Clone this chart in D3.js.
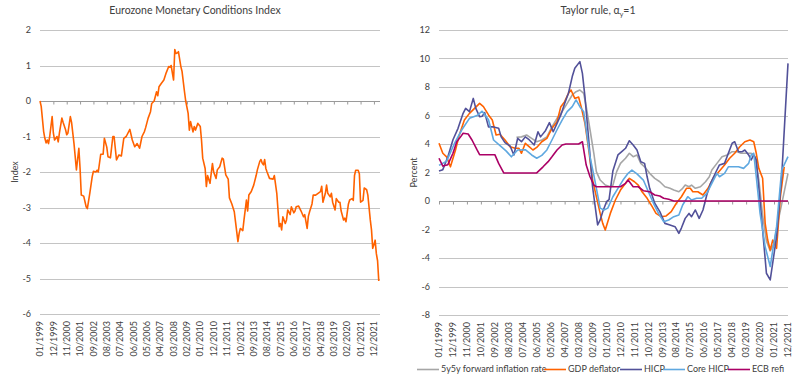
<!DOCTYPE html>
<html>
<head>
<meta charset="utf-8">
<script src="https://cdn.jsdelivr.net/npm/d3@7"></script>
<style>
  html, body { margin: 0; padding: 0; background: #ffffff; }
  svg { display: block; }
  text { font-family: Lato, "Open Sans", sans-serif; fill: #404040; }
</style>
</head>
<body>
<div id="chart"></div>
<script>
// ---------------- DATA ----------------
// Month index counted from 01/1999 (0 = Jan 1999)
const xTickLabels = ["01/1999","12/1999","11/2000","10/2001","09/2002","08/2003","07/2004","06/2005","05/2006","04/2007","03/2008","02/2009","01/2010","12/2010","11/2011","10/2012","09/2013","08/2014","07/2015","06/2016","05/2017","04/2018","03/2019","02/2020","01/2021","12/2021"];
const xTickStep = 11; // months between labels

// Left panel: Eurozone Monetary Conditions Index
const mciMonths = [0,1,3,4,5,6,7,8,10,11,12,13,14,15,16,18,19,21,22,23,25,26,28,30,32,33,34,36,38,39,41,43,44,46,47,48,50,52,53,55,56,58,60,61,63,65,67,69,71,74,76,78,80,82,84,86,87,89,91,92,94,96,97,98,100,102,104,106,107,108,110,111,112,113,114,116,117,119,120,122,123,124,126,127,128,130,132,133,134,136,137,138,140,142,143,145,146,148,150,151,153,155,156,158,160,161,163,164,165,167,168,170,171,172,174,176,178,179,181,182,183,184,185,186,187,189,192,193,195,197,198,199,200,202,203,204,206,207,209,210,211,213,215,217,218,220,221,222,224,225,227,229,231,232,233,235,236,237,239,240,241,243,244,246,247,248,250,251,252,254,255,257,258,259,260,262,263,264,266,267,269,270,272,273,274,275,276,277,278,279];
const mciValues = [0.0,-0.15,-0.86,-1.05,-1.18,-1.1,-1.2,-1.0,-0.44,-0.9,-1.1,-1.05,-1.0,-1.15,-0.9,-0.48,-0.6,-0.8,-0.95,-0.9,-0.44,-0.6,-1.2,-1.94,-1.33,-1.9,-2.65,-2.68,-2.98,-3.03,-2.6,-2.13,-1.98,-2.0,-1.95,-2.0,-1.5,-1.5,-1.05,-1.3,-1.57,-1.6,-1.0,-1.0,-1.66,-1.52,-1.55,-1.05,-1.0,-0.8,-1.1,-1.29,-1.2,-1.33,-1.0,-0.86,-0.75,-0.49,-0.3,-0.07,0.0,0.26,0.15,0.4,0.5,0.59,0.8,0.97,0.95,1.0,0.59,1.45,1.34,1.35,1.39,0.97,0.83,0.26,0.0,-0.35,-0.82,-0.58,-0.87,-0.72,-0.82,-0.63,-0.72,-1.1,-1.61,-1.9,-2.41,-2.1,-2.32,-1.76,-2.0,-2.18,-1.94,-1.85,-1.61,-1.64,-2.08,-2.2,-2.73,-2.9,-3.12,-3.4,-3.96,-3.73,-3.59,-3.65,-3.35,-2.79,-3.1,-2.65,-2.55,-2.37,-2.1,-1.94,-1.7,-1.65,-1.75,-1.8,-1.65,-1.9,-2.0,-2.18,-2.2,-2.1,-2.6,-3.54,-3.45,-3.63,-3.26,-3.45,-3.35,-3.07,-3.2,-2.98,-3.15,-3.1,-2.98,-2.96,-3.1,-3.26,-3.2,-3.59,-3.25,-3.12,-2.9,-2.65,-2.65,-2.6,-2.55,-2.4,-2.85,-2.6,-2.37,-2.6,-2.7,-2.6,-2.85,-3.07,-2.75,-2.85,-2.85,-3.1,-3.35,-3.3,-3.4,-2.9,-2.79,-2.75,-2.8,-2.1,-1.95,-1.95,-2.05,-2.85,-2.8,-2.45,-2.5,-2.65,-3.35,-3.63,-4.15,-4.05,-3.92,-4.3,-4.5,-5.07];
const mciTicks = [2,1,0,-1,-2,-3,-4,-5,-6];

// Right panel: Taylor rule, alpha_y = 1 (percent)
const fwdMonths = [61,65,69,73,77,81,85,89,93,97,101,105,108,111,114,116,119,122,124,127,131,135,137,140,143,147,150,153,156,159,162,166,170,174,178,182,185,189,192,194,197,199,202,206,210,213,215,219,223,227,231,235,238,242,246,249,252,255,258,261,264,267,271,275];
const fwdValues = [4.47,4.5,4.63,4.4,4.16,4.28,4.5,5.2,5.8,6.27,6.85,7.44,7.67,7.79,7.56,6.62,5.0,3.35,2.06,1.47,1.12,1.0,1.1,2.06,2.64,3.0,3.35,3.11,3.23,2.64,2.4,1.94,1.59,1.35,1.0,0.89,0.77,0.65,0.89,1.12,1.0,1.12,0.89,1.0,1.35,1.7,2.17,2.64,3.11,3.23,3.46,3.46,3.35,3.35,3.35,3.11,1.5,-1.0,-2.8,-3.5,-3.0,-1.5,0.2,1.94];

const gdpMonths = [0,3,6,9,13,16,20,24,28,32,35,39,42,45,48,52,56,60,63,65,68,71,74,77,81,85,89,93,96,99,102,104,107,110,112,115,118,121,127,129,131,135,139,143,147,150,154,157,160,164,168,171,175,179,183,187,191,195,198,200,204,208,212,216,220,225,229,233,237,241,245,248,250,252,255,257,259,261,263,266,269,272];
const gdpValues = [4.05,3.35,3.1,2.4,3.58,4.63,5.68,6.15,6.5,6.85,6.62,6.04,5.68,4.63,4.68,4.28,3.81,3.7,3.7,3.35,4.05,3.81,3.58,3.76,4.16,4.4,5.1,5.57,6.62,6.97,7.56,7.79,7.2,7.3,6.62,5.45,3.58,1.47,-0.87,-1.57,-2.04,-0.87,0.07,0.77,1.24,1.59,1.35,1.12,0.65,0.19,-0.4,-0.87,-1.1,-1.05,-0.75,-0.16,0.3,0.89,0.89,0.65,0.65,0.42,0.89,1.59,2.0,2.53,3.0,3.35,3.81,4.16,4.28,4.16,3.35,2.29,1.6,-1.57,-2.74,-3.44,-2.74,-3.32,0.3,2.4];

const hicpMonths = [0,3,7,11,15,19,21,24,27,29,32,34,36,39,43,47,49,52,56,59,62,65,68,71,75,78,80,84,87,90,93,96,99,102,105,107,111,113,115,118,121,125,127,129,132,134,137,141,144,147,150,153,156,159,162,164,166,170,174,178,182,186,189,191,194,197,199,202,205,208,211,214,218,221,225,228,231,233,236,239,241,244,246,248,250,254,258,261,266,270,275];
const hicpValues = [2.1,2.2,3.1,4.3,5.1,6.15,6.5,6.27,7.2,6.5,5.92,5.95,6.2,5.2,5.2,5.1,4.5,4.1,3.86,3.23,4.4,4.16,4.5,4.3,3.93,4.86,4.5,4.95,5.5,4.86,5.45,6.04,6.85,7.56,8.73,9.31,9.78,8.96,7.32,4.28,1.0,-1.68,-1.33,-0.75,-0.05,0.1,2.1,3.23,3.46,3.7,4.23,3.93,3.58,2.76,2.64,1.7,0.89,-0.16,-0.75,-1.57,-1.68,-1.8,-2.27,-1.9,-1.22,-0.87,-1.1,-0.63,-1.22,-0.63,0.42,1.24,2.0,2.53,2.64,3.35,4.05,4.16,3.46,3.46,3.58,3.23,2.88,3.23,2.88,-1.0,-5.07,-5.54,-2.5,1.7,9.66];

const coreMonths = [0,6,12,18,24,30,34,39,43,49,53,57,62,68,73,77,81,85,89,93,97,101,105,108,111,114,116,119,122,127,130,133,137,141,145,149,152,156,161,165,169,173,177,181,185,189,192,196,199,203,207,211,215,219,221,225,228,232,236,240,244,246,248,250,253,257,261,263,266,270,275];
const coreValues = [2.5,2.8,4.0,5.0,5.8,6.0,6.3,5.7,4.28,3.81,3.5,3.1,3.58,3.6,3.23,3.0,3.2,3.58,4.28,5.0,5.68,6.27,6.62,7.09,6.62,6.27,5.0,3.1,1.82,-0.5,-0.63,-0.5,0.3,0.89,1.47,1.94,2.17,1.9,1.47,0.65,-0.16,-0.87,-1.45,-1.33,-1.1,-0.98,-0.28,0.3,0.07,0.19,0.19,0.54,1.24,1.94,1.7,1.94,2.4,2.4,2.4,2.29,2.64,3.23,3.35,1.7,-0.87,-3.2,-4.6,-3.44,-1.8,2.17,3.11];

const refiMonths = [0,3,7,11,14,17,19,23,26,30,32,36,40,44,47,51,60,70,77,82,86,89,93,97,100,110,113,116,119,122,124,143,147,149,153,157,161,166,170,174,177,181,185,275];
const refiValues = [3.0,2.45,2.55,3.35,4.16,4.5,4.75,4.7,4.28,3.58,3.25,3.25,3.25,3.25,2.64,1.97,1.97,1.97,1.97,2.4,2.76,3.1,3.58,3.93,4.0,4.0,4.16,2.52,1.7,1.12,1.0,1.0,1.24,1.47,1.0,1.0,0.72,0.65,0.42,0.35,0.19,0.12,0.0,0.0];

const taylorTicks = [12,10,8,6,4,2,0,-2,-4,-6,-8];

const seriesNames = ["5y5y forward inflation rate","GDP deflator","HICP","Core HICP","ECB refi"];
const seriesColors = ["#a6a6a6","#ff6200","#525199","#5fa8e0","#ab0066"];
const seriesMonths = [fwdMonths, gdpMonths, hicpMonths, coreMonths, refiMonths];
const seriesValues = [fwdValues, gdpValues, hicpValues, coreValues, refiValues];

// ---------------- DRAW ----------------
const W = 800, H = 382;
const svg = d3.select("#chart").append("svg").attr("width", W).attr("height", H);

function panel(opts) {
  const { x, y, ticks, title, ylabel, ylabelX } = opts;
  const g = svg.append("g");
  const [x0, x1] = x.range();
  // gridlines
  g.selectAll("line.grid").data(ticks.filter(t => t !== 0)).join("line")
    .attr("x1", x0).attr("x2", x1)
    .attr("y1", d => Math.round(y(d)) + 0.5).attr("y2", d => Math.round(y(d)) + 0.5)
    .attr("stroke", "#c4c4c4").attr("stroke-width", 1);
  // y tick labels
  g.selectAll("text.yt").data(ticks).join("text")
    .attr("x", x0 - 9).attr("y", d => y(d)).attr("dy", "0.35em")
    .attr("text-anchor", "end").style("font-size", "9px")
    .text(d => d);
  // zero axis with ticks
  const y0 = Math.round(y(0)) + 0.5;
  const ax = d3.axisBottom(x)
    .tickValues(xTickLabels.map((_, i) => i * xTickStep))
    .tickSize(3).tickFormat("");
  const axg = g.append("g").attr("transform", `translate(0,${y0})`).call(ax);
  axg.select(".domain").attr("stroke", "#9a9a9a").attr("d", `M${x0},0H${x1}`);
  axg.selectAll(".tick line").attr("stroke", "#9a9a9a");
  // x labels at bottom, rotated
  const yb = y.range()[0] + 7;
  g.selectAll("text.xl").data(xTickLabels).join("text")
    .attr("transform", (d, i) => `translate(${x(i * xTickStep)},${yb}) rotate(-90)`)
    .attr("text-anchor", "end").attr("dy", "0.35em")
    .style("font-size", "9px")
    .text(d => d);
  // y axis title
  g.append("text")
    .attr("transform", `translate(${ylabelX},${(y.range()[0] + y.range()[1]) / 2}) rotate(-90)`)
    .attr("text-anchor", "middle").attr("dy", "0.35em")
    .style("font-size", "9px").text(ylabel);
  return g;
}

// Left panel
const xL = d3.scaleLinear().domain([0, 280]).range([40, 380]);
const yL = d3.scaleLinear().domain([-6, 2]).range([314, 30]);
const gL = panel({ x: xL, y: yL, ticks: mciTicks, ylabel: "Index", ylabelX: 15 });
svg.append("text").attr("x", 195).attr("y", 14).attr("text-anchor", "middle")
  .style("font-size", "10.5px").text("Eurozone Monetary Conditions Index");
const lineL = d3.line().x(d => xL(d[0])).y(d => yL(d[1]));
gL.append("path").datum(mciMonths.map((m, i) => [m, mciValues[i]]))
  .attr("d", lineL).attr("fill", "none").attr("stroke", "#ff6200")
  .attr("stroke-width", 1.6).attr("stroke-linejoin", "round");

// Right panel
const xR = d3.scaleLinear().domain([0, 275]).range([439, 788]);
const yR = d3.scaleLinear().domain([-8, 12]).range([315, 30]);
const gR = panel({ x: xR, y: yR, ticks: taylorTicks, ylabel: "Percent", ylabelX: 414 });
const tt = svg.append("text").attr("x", 598).attr("y", 14).attr("text-anchor", "middle")
  .style("font-size", "10.5px");
tt.append("tspan").text("Taylor rule, α");
tt.append("tspan").attr("dy", 3).style("font-size", "7px").text("y");
tt.append("tspan").attr("dy", -3).text("=1");

const lineR = d3.line().x(d => xR(d[0])).y(d => yR(d[1]));
seriesNames.forEach((name, k) => {
  gR.append("path").datum(seriesMonths[k].map((m, i) => [m, seriesValues[k][i]]))
    .attr("d", lineR).attr("fill", "none").attr("stroke", seriesColors[k])
    .attr("stroke-width", 1.6).attr("stroke-linejoin", "round");
});

// Legend
const legendX = [417, 544, 620, 663, 728];
const lg = svg.append("g");
seriesNames.forEach((name, k) => {
  lg.append("line").attr("x1", legendX[k]).attr("x2", legendX[k] + 22)
    .attr("y1", 369.5).attr("y2", 369.5)
    .attr("stroke", seriesColors[k]).attr("stroke-width", 1.6);
  lg.append("text").attr("x", legendX[k] + 24).attr("y", 369).attr("dy", "0.35em")
    .style("font-size", "9px").text(name);
});
</script>
</body>
</html>
